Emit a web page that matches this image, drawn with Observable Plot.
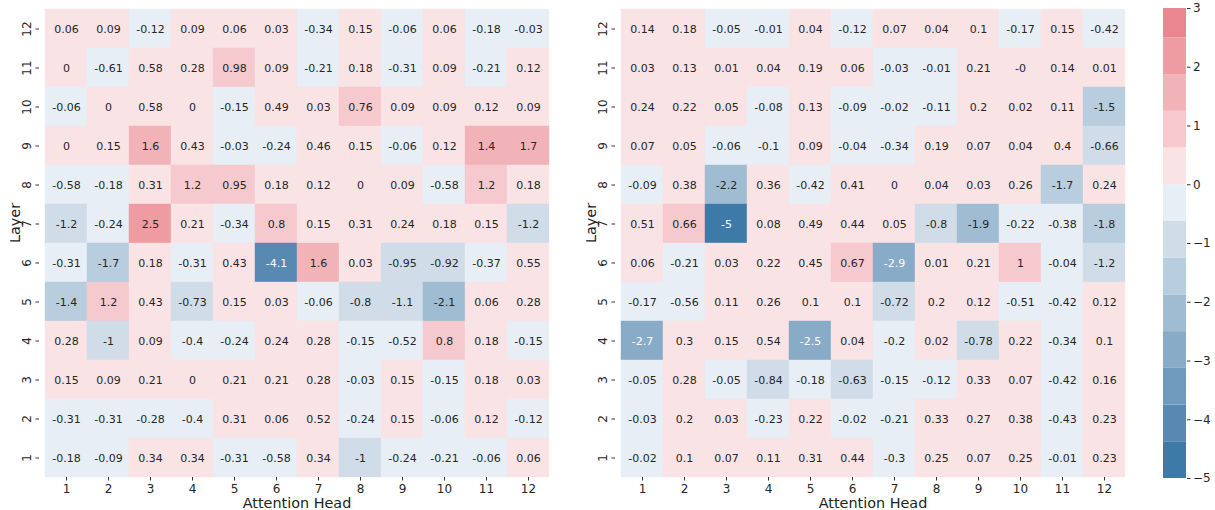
<!DOCTYPE html>
<html>
<head>
<meta charset="utf-8">
<script src="https://cdn.jsdelivr.net/npm/d3@7"></script>
<script src="https://cdn.jsdelivr.net/npm/@observablehq/plot@0.6"></script>
<style>
  html, body { margin: 0; padding: 0; background: white; }
  #wrap { position: relative; width: 1215px; height: 510px; font-family: "DejaVu Sans", sans-serif; }
  #wrap > div { position: absolute; top: 0; }
  svg { display: block; }
</style>
</head>
<body>
<div id="wrap">
  <div id="left" style="left:0px"></div>
  <div id="right" style="left:576px"></div>
  <div id="bar" style="left:1140px"></div>
</div>
<script>
// ---- data ----
const heads = [1, 2, 3, 4, 5, 6, 7, 8, 9, 10, 11, 12];
const layers = [12, 11, 10, 9, 8, 7, 6, 5, 4, 3, 2, 1]; // top to bottom

// left heatmap, rows = layer 12 .. 1, columns = head 1 .. 12
const leftValues = [
  [0.06, 0.09, -0.12, 0.09, 0.06, 0.03, -0.34, 0.15, -0.06, 0.06, -0.18, -0.03],
  [0, -0.61, 0.58, 0.28, 0.98, 0.09, -0.21, 0.18, -0.31, 0.09, -0.21, 0.12],
  [-0.06, 0, 0.58, 0, -0.15, 0.49, 0.03, 0.76, 0.09, 0.09, 0.12, 0.09],
  [0, 0.15, 1.6, 0.43, -0.03, -0.24, 0.46, 0.15, -0.06, 0.12, 1.4, 1.7],
  [-0.58, -0.18, 0.31, 1.2, 0.95, 0.18, 0.12, 0, 0.09, -0.58, 1.2, 0.18],
  [-1.2, -0.24, 2.47, 0.21, -0.34, 0.8, 0.15, 0.31, 0.24, 0.18, 0.15, -1.2],
  [-0.31, -1.7, 0.18, -0.31, 0.43, -4.1, 1.6, 0.03, -0.95, -0.92, -0.37, 0.55],
  [-1.4, 1.2, 0.43, -0.73, 0.15, 0.03, -0.06, -0.8, -1.1, -2.1, 0.06, 0.28],
  [0.28, -1, 0.09, -0.4, -0.24, 0.24, 0.28, -0.15, -0.52, 0.8, 0.18, -0.15],
  [0.15, 0.09, 0.21, 0, 0.21, 0.21, 0.28, -0.03, 0.15, -0.15, 0.18, 0.03],
  [-0.31, -0.31, -0.28, -0.4, 0.31, 0.06, 0.52, -0.24, 0.15, -0.06, 0.12, -0.12],
  [-0.18, -0.09, 0.34, 0.34, -0.31, -0.58, 0.34, -1, -0.24, -0.21, -0.06, 0.06]
];

// right heatmap
const rightValues = [
  [0.14, 0.18, -0.05, -0.01, 0.04, -0.12, 0.07, 0.04, 0.1, -0.17, 0.15, -0.42],
  [0.03, 0.13, 0.01, 0.04, 0.19, 0.06, -0.03, -0.01, 0.21, -0, 0.14, 0.01],
  [0.24, 0.22, 0.05, -0.08, 0.13, -0.09, -0.02, -0.11, 0.2, 0.02, 0.11, -1.5],
  [0.07, 0.05, -0.06, -0.1, 0.09, -0.04, -0.34, 0.19, 0.07, 0.04, 0.4, -0.66],
  [-0.09, 0.38, -2.2, 0.36, -0.42, 0.41, 0, 0.04, 0.03, 0.26, -1.7, 0.24],
  [0.51, 0.66, -5, 0.08, 0.49, 0.44, 0.05, -0.8, -1.9, -0.22, -0.38, -1.8],
  [0.06, -0.21, 0.03, 0.22, 0.45, 0.67, -2.9, 0.01, 0.21, 1, -0.04, -1.2],
  [-0.17, -0.56, 0.11, 0.26, 0.1, 0.1, -0.72, 0.2, 0.12, -0.51, -0.42, 0.12],
  [-2.7, 0.3, 0.15, 0.54, -2.53, 0.04, -0.2, 0.02, -0.78, 0.22, -0.34, 0.1],
  [-0.05, 0.28, -0.05, -0.84, -0.18, -0.63, -0.15, -0.12, 0.33, 0.07, -0.42, 0.16],
  [-0.03, 0.2, 0.03, -0.23, 0.22, -0.02, -0.21, 0.33, 0.27, 0.38, -0.43, 0.23],
  [-0.02, 0.1, 0.07, 0.11, 0.31, 0.44, -0.3, 0.25, 0.07, 0.25, -0.01, 0.23]
];

// colour bins (thresholds) and colours
const colorMin = -5, colorMax = 3;
const thresholds = [-4.375, -3.75, -3.125, -2.5, -1.875, -1.25, -0.625, 0, 0.625, 1.25, 1.875, 2.5];
const palette = ["#3e7aa8", "#5789b3", "#6f9abd", "#88abc8", "#a0bcd2", "#b8cddd", "#d0dde8", "#e8eef5",
                 "#f9e3e5", "#f5c9cd", "#f2b3b8", "#ee9ba2", "#e9868f"];
const barTicks = [-5, -4, -3, -2, -1, 0, 1, 2, 3];

// ---- helpers ----
const colorFn = d3.scaleThreshold().domain(thresholds).range(palette);
const g2 = d3.format(".2~g");
function fmt(v) {
  if (Object.is(v, -0)) return "-0";
  return g2(v).replace("\u2212", "-");
}
function lum(c) {
  const rgb = d3.rgb(c);
  const f = x => { x /= 255; return x <= 0.03928 ? x / 12.92 : Math.pow((x + 0.055) / 1.055, 2.4); };
  return 0.2126 * f(rgb.r) + 0.7152 * f(rgb.g) + 0.0722 * f(rgb.b);
}
function textColor(v) { return lum(colorFn(v)) < 0.408 ? "white" : "#262626"; }

function toRows(values) {
  const out = [];
  values.forEach((row, i) => row.forEach((v, j) => out.push({layer: layers[i], head: heads[j], value: v})));
  return out;
}

const colorScale = {type: "threshold", domain: thresholds, range: palette};
const baseStyle = {fontFamily: "DejaVu Sans, sans-serif", background: "white", color: "#262626", overflow: "visible"};

function heatmap(values) {
  const rows = toRows(values);
  return Plot.plot({
    width: 580, height: 510,
    marginLeft: 39, marginRight: 26, marginTop: 8, marginBottom: 33,
    style: {...baseStyle, fontSize: "12px"},
    x: {type: "band", domain: heads, padding: 0, label: null},
    y: {type: "band", domain: layers, padding: 0, label: null},
    color: colorScale,
    marks: [
      Plot.cell(rows, {x: "head", y: "layer", fill: "value", stroke: "value", strokeWidth: 0.4}),
      Plot.text(rows, {x: "head", y: "layer", text: d => fmt(d.value), fill: d => textColor(d.value), fontSize: 11}),
      Plot.axisX({tickSize: 3.5, tickPadding: 3, fontSize: 12, label: null, stroke: "#333"}),
      Plot.axisY({tickSize: 3.5, tickRotate: -90, fontSize: 12, label: null, stroke: "#333"}),
      Plot.text(["Attention Head"], {text: d => d, frameAnchor: "bottom", dy: 30, fontSize: 14.4, fill: "#222"}),
      Plot.text(["Layer"], {text: d => d, frameAnchor: "left", dx: -24, rotate: -90, fontSize: 14.4, fill: "#222"})
    ]
  });
}

document.getElementById("left").appendChild(heatmap(leftValues));
document.getElementById("right").appendChild(heatmap(rightValues));

// colour bar
const edges = [colorMin, ...thresholds, colorMax];
const bins = d3.pairs(edges).map(([lo, hi]) => ({lo, hi}));
const bar = Plot.plot({
  width: 75, height: 510,
  marginLeft: 23, marginRight: 29, marginTop: 8, marginBottom: 32,
  style: {...baseStyle, fontSize: "12px"},
  y: {domain: [colorMin, colorMax], label: null},
  color: colorScale,
  marks: [
    Plot.rect(bins, {y1: "lo", y2: "hi", fill: d => (d.lo + d.hi) / 2}),
    Plot.axisY({anchor: "right", ticks: barTicks, tickSize: 3.5, tickPadding: 3, fontSize: 12, label: null, stroke: "#333"})
  ]
});
document.getElementById("bar").appendChild(bar);
</script>
</body>
</html>
